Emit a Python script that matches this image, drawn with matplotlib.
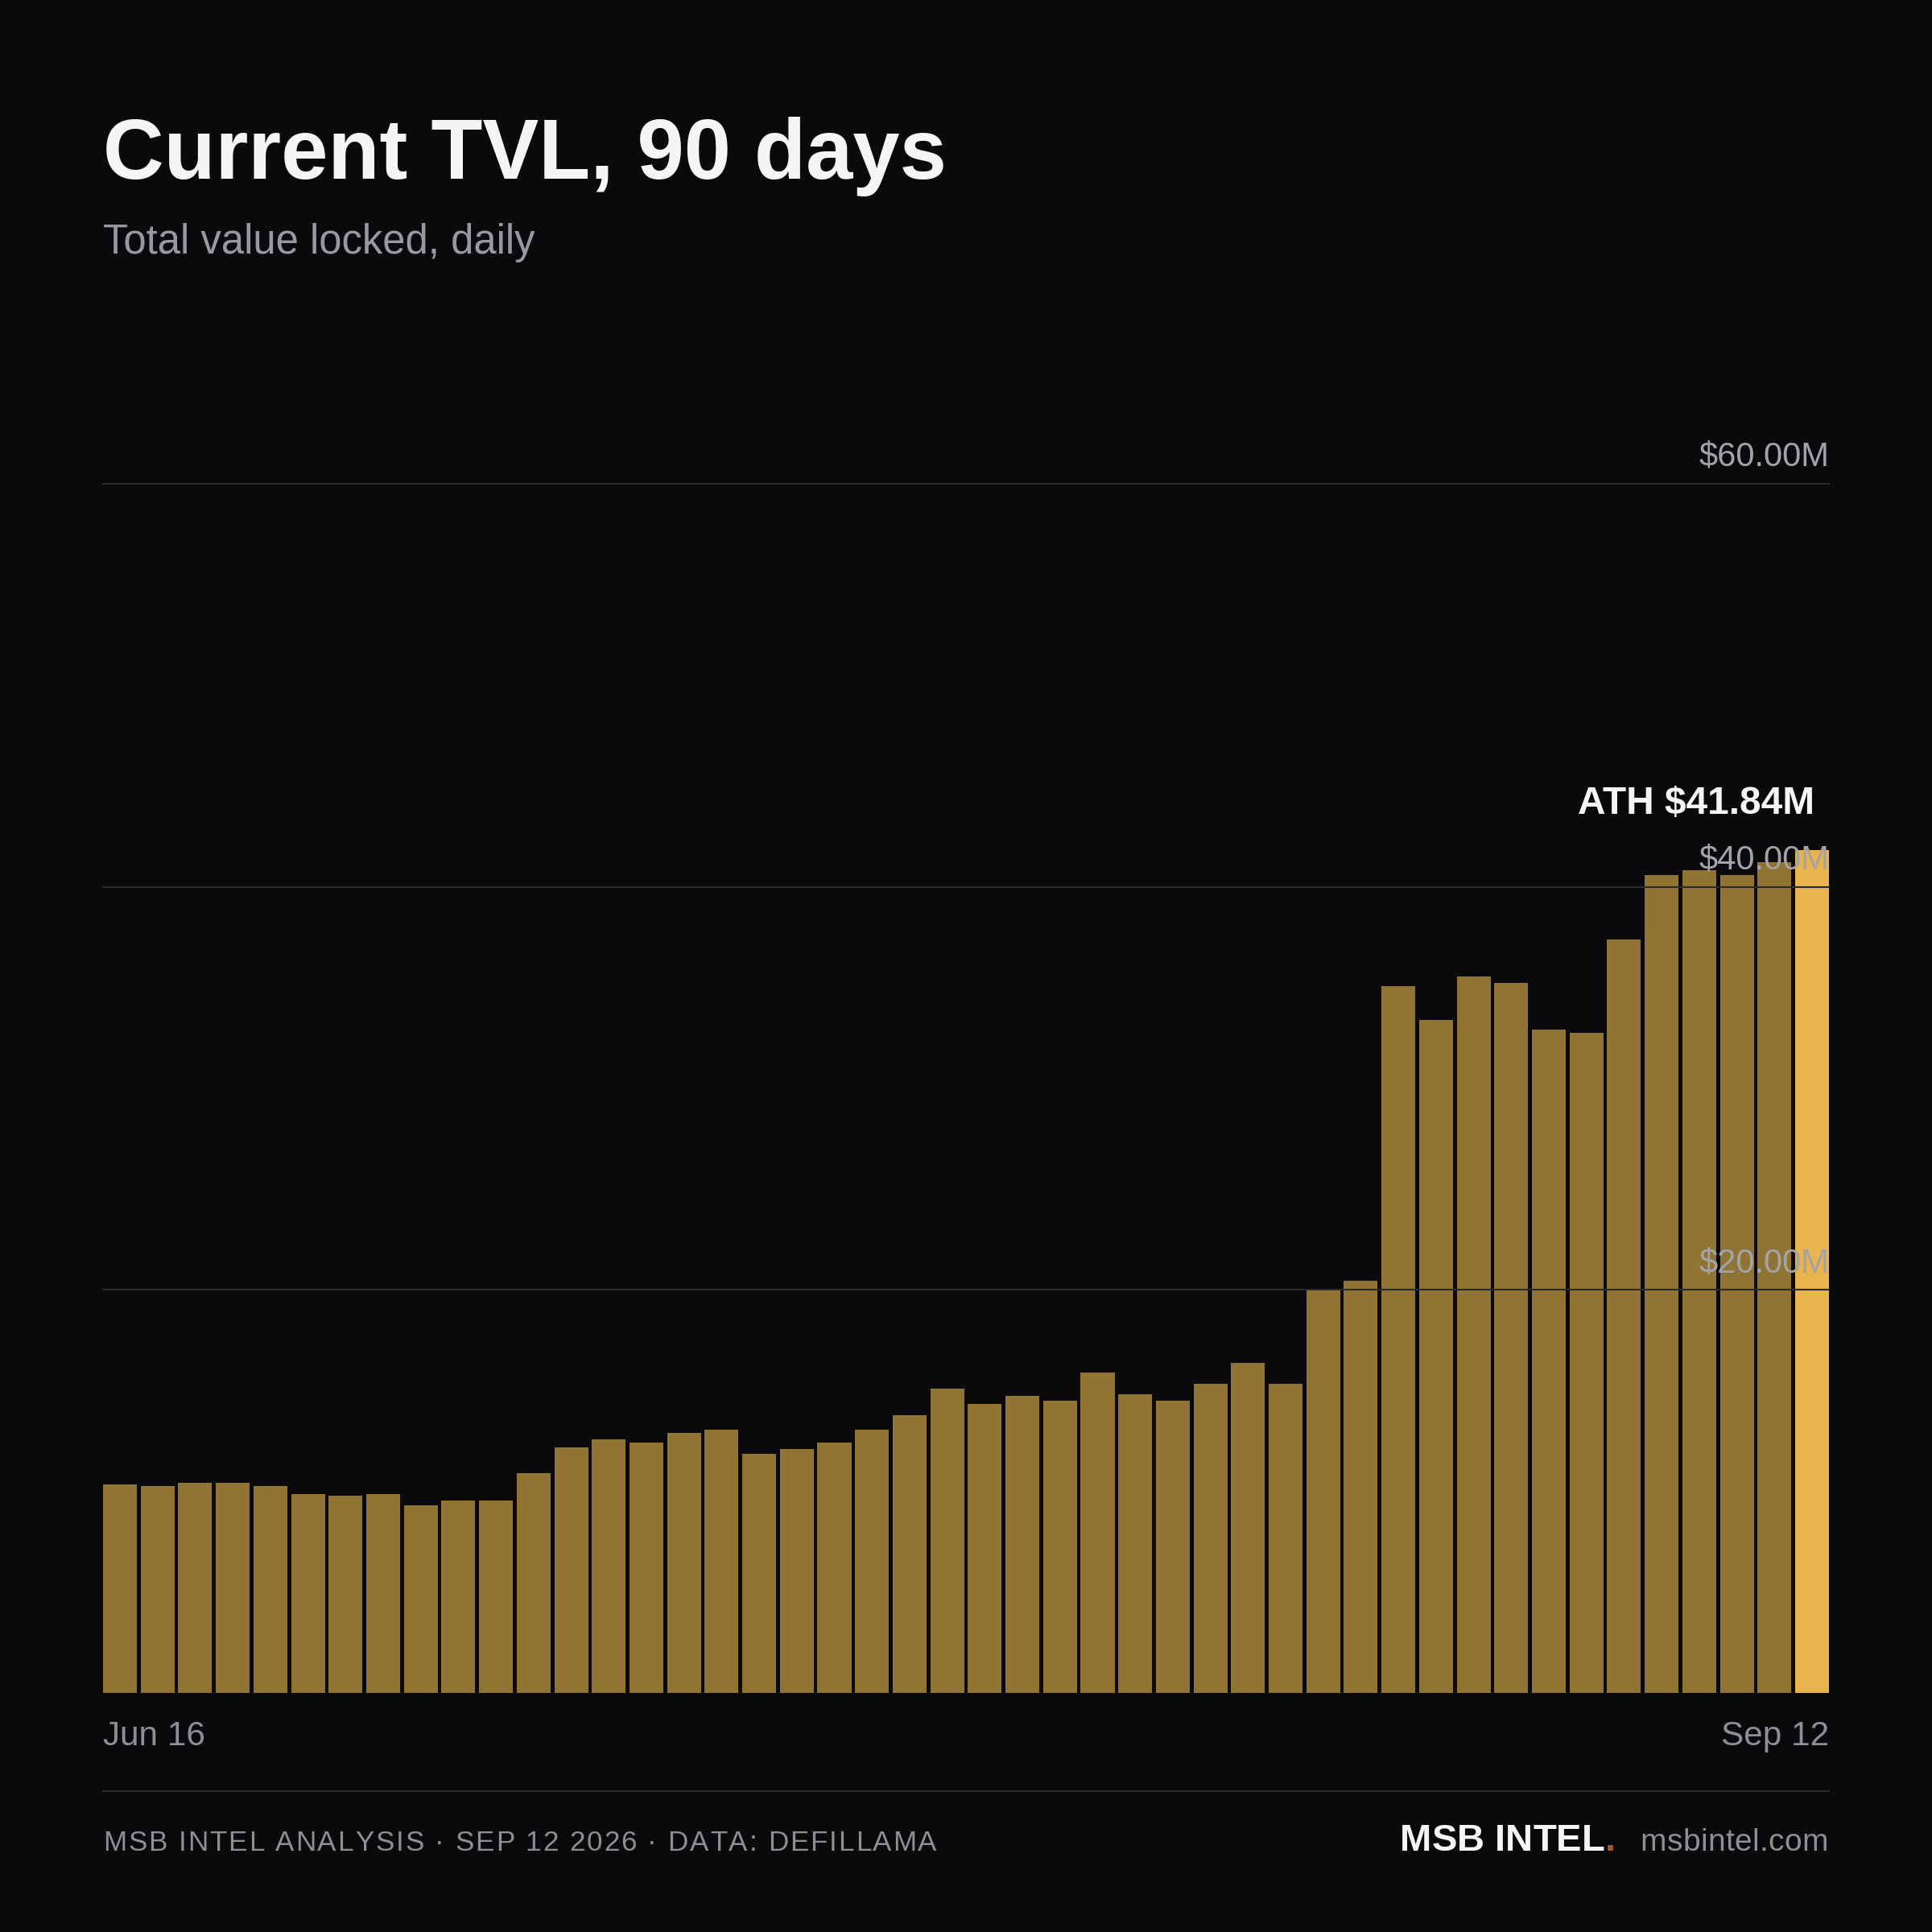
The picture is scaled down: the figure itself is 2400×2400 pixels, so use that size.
import numpy as np
import matplotlib
matplotlib.use("Agg")
import matplotlib.pyplot as plt
from matplotlib.font_manager import FontProperties, findfont, get_font

# daily TVL in $M
tvl = [10.36, 10.28, 10.44, 10.44, 10.28, 9.88, 9.80, 9.88, 9.32, 9.56, 9.56,
       10.92, 12.20, 12.60, 12.44, 12.92, 13.08, 11.88, 12.12, 12.44, 13.08,
       13.80, 15.08, 14.36, 14.76, 14.52, 15.88, 14.84, 14.52, 15.32, 16.36,
       15.32, 20.02, 20.44, 35.08, 33.40, 35.56, 35.24, 32.92, 32.76, 37.40,
       40.60, 40.84, 40.60, 41.24, 41.84]
grid_vals = [20, 40, 60]
grid_labels = ["$20.00M", "$40.00M", "$60.00M"]
first_date, last_date = "Jun 16", "Sep 12"
ath_label = "ATH $41.84M"

BG = "#0a0a0c"
BAR = "#8f7434"
BAR_HI = "#e9b44c"
GRID = "#2b2b2e"
DPI = 200
plt.rcParams['font.family'] = ['Liberation Sans', 'DejaVu Sans']

fig = plt.figure(figsize=(12, 12), dpi=DPI, facecolor=BG)
W = H = 2400.0

def fx(px): return px / W
def fy(py): return 1 - py / H

def tracked_text(x_px, base_px, s, size, color, weight="normal", track=0.0, ha="left"):
    # draw a string char by char with extra letter spacing (in em)
    fp = FontProperties(family="Liberation Sans", weight=weight, size=size)
    font = get_font(findfont(fp))
    font.set_size(size, DPI)
    em = size * DPI / 72.0
    adv = [font.load_char(ord(c)).linearHoriAdvance / 65536.0 for c in s]
    step = [a + track * em for a in adv]
    total = sum(step) - track * em
    x0 = x_px if ha == "left" else x_px - total
    x = x0
    for c, st in zip(s, step):
        fig.text(fx(x), fy(base_px), c, ha="left", va="baseline", fontproperties=fp, color=color)
        x += st
    return x0, x0 + total

ax = fig.add_axes([fx(128), fy(2103), fx(2272) - fx(128), fy(601) - fy(2103)])
ax.set_facecolor(BG)

n = len(tvl)
w = 0.9
x = np.arange(n)
colors = [BAR] * (n - 1) + [BAR_HI]
ax.bar(x, tvl, width=w, color=colors, zorder=2, linewidth=0)
ax.set_xlim(-w / 2, n - 1 + w / 2)
ax.set_ylim(0, 60)

# gridlines over the bars, labels sitting on top right
for v, lab in zip(grid_vals, grid_labels):
    ax.axhline(v, color=GRID, lw=0.75, zorder=3, clip_on=False)
    ax.annotate(lab, xy=(1, v), xycoords=ax.get_yaxis_transform(),
                xytext=(0, 8), textcoords="offset points",
                ha="right", va="baseline", fontsize=15, color="#a3a3a8", zorder=4)

# ATH callout
ath_i = int(np.argmax(tvl))
ax.annotate(ath_label, xy=(ath_i, tvl[ath_i]), xytext=(1, 16), textcoords="offset points",
            ha="right", va="baseline", fontsize=17.2, fontweight="bold", color="#f5f5f7", zorder=4)

for s in ax.spines.values():
    s.set_visible(False)
ax.set_xticks([])
ax.set_yticks([])

# x labels
fig.text(fx(128), fy(2168), first_date, ha="left", va="baseline", fontsize=15.2, color="#8e8e93")
fig.text(fx(2272), fy(2168), last_date, ha="right", va="baseline", fontsize=15.2, color="#8e8e93")

# title block
fig.text(fx(128), fy(222), "Current TVL, 90 days", ha="left", va="baseline",
         fontsize=37.7, fontweight="bold", color="#f5f5f7")
fig.text(fx(128), fy(315), "Total value locked, daily", ha="left", va="baseline",
         fontsize=18.3, color="#98989e")

# footer
fig.add_artist(plt.Line2D([fx(128), fx(2272)], [fy(2225), fy(2225)], color=GRID, lw=0.75))
tracked_text(128, 2299, "MSB INTEL ANALYSIS \u00b7 SEP 12 2026 \u00b7 DATA: DEFILLAMA",
             12.6, "#8e8e93", track=0.055)
s0, _ = tracked_text(2271, 2299, "msbintel.com", 14, "#8e8e93", track=0.01, ha="right")
d0, _ = tracked_text(s0 - 31, 2299, ".", 17, "#a55a2a", weight="bold", ha="right")
tracked_text(d0, 2299, "MSB INTEL", 17, "#f5f5f7", weight="bold", ha="right")

fig.savefig("out.png", dpi=DPI, facecolor=BG)
